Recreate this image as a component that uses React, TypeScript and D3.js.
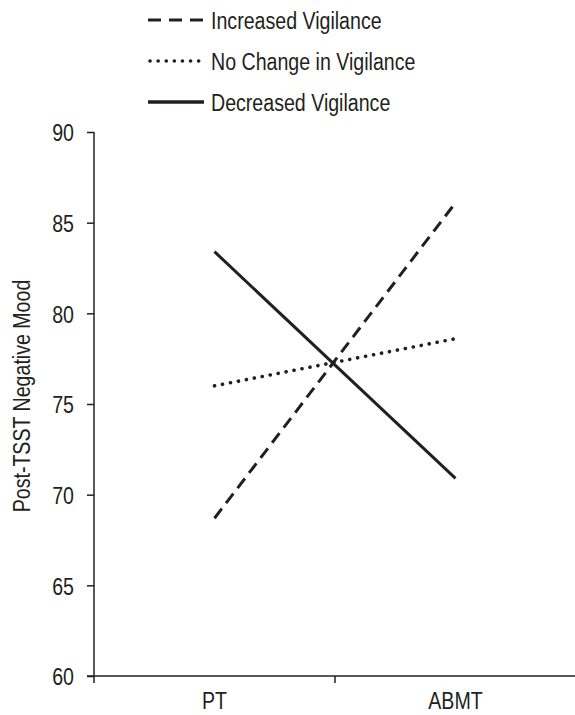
import React, { useRef, useEffect } from "react";
import * as d3 from "d3";

// conditions on the x axis
const conditions = ["PT", "ABMT"];
// post-TSST negative mood per group
const increased = [68.7, 86.1];
const noChange = [76.0, 78.6];
const decreased = [83.4, 70.9];
const seriesNames = ["Increased Vigilance", "No Change in Vigilance", "Decreased Vigilance"];
const yTicks = [60, 65, 70, 75, 80, 85, 90];

const ink = "#231f20";
const font = "'Liberation Sans', Arial, sans-serif";
const fs = 24.5;
const squeeze = "scale(0.8,1)"; // fake a condensed face

const App = () => {
  const svgRef = useRef(null);
  const width = 575;
  const height = 715;

  useEffect(() => {
    const svg = d3.select(svgRef.current);
    svg.selectAll("*").remove();

    const x = d3.scaleBand().domain(conditions).range([94, 576]);
    const y = d3.scaleLinear().domain([60, 90]).range([676, 132]);

    const styles = [
      { dash: "12,7", cap: "butt", w: 3 },
      { dash: "0.1,8", cap: "round", w: 3.6 },
      { dash: null, cap: "butt", w: 3 },
    ];
    const allSeries = [increased, noChange, decreased];

    // y axis
    const yAxis = svg.append("g").attr("transform", "translate(94,0)")
      .call(d3.axisLeft(y).tickValues(yTicks).tickSize(7).tickSizeOuter(0));
    yAxis.select(".domain").remove();
    yAxis.append("line").attr("x1", 0).attr("x2", 0).attr("y1", y(90)).attr("y2", 683)
      .attr("stroke", ink).attr("stroke-width", 1.5);
    yAxis.selectAll(".tick line").attr("stroke", ink).attr("stroke-width", 1.5);
    yAxis.selectAll(".tick text")
      .attr("x", 0).attr("dy", "0.36em")
      .attr("transform", "translate(-20,0) " + squeeze)
      .attr("fill", ink).attr("font-size", fs).attr("font-family", font);

    // x axis
    svg.append("line").attr("x1", 87).attr("x2", 575).attr("y1", y(60)).attr("y2", y(60))
      .attr("stroke", ink).attr("stroke-width", 1.5);
    const mid = (x("PT") + x.bandwidth() + x("ABMT")) / 2;
    svg.append("line").attr("x1", mid).attr("x2", mid).attr("y1", y(60)).attr("y2", 683)
      .attr("stroke", ink).attr("stroke-width", 1.5);
    svg.selectAll(".xlab").data(conditions).join("text")
      .attr("class", "xlab")
      .attr("transform", d => `translate(${x(d) + x.bandwidth() / 2},709) ${squeeze}`)
      .attr("text-anchor", "middle")
      .attr("fill", ink).attr("font-size", fs).attr("font-family", font)
      .text(d => d);

    // y title
    svg.append("text")
      .attr("transform", `translate(30,396) rotate(-90) ${squeeze}`)
      .attr("text-anchor", "middle")
      .attr("fill", ink).attr("font-size", fs).attr("font-family", font)
      .text("Post-TSST Negative Mood");

    // lines
    const myLine = d3.line()
      .x((d, i) => x(conditions[i]) + x.bandwidth() / 2)
      .y(d => y(d));
    allSeries.forEach((s, i) => {
      svg.append("path")
        .attr("d", myLine(s))
        .attr("fill", "none")
        .attr("stroke", ink)
        .attr("stroke-width", styles[i].w)
        .attr("stroke-linecap", styles[i].cap)
        .attr("stroke-dasharray", styles[i].dash);
    });

    // legend
    const legend = svg.append("g");
    seriesNames.forEach((name, i) => {
      const cy = 20 + i * 41;
      legend.append("line")
        .attr("x1", i === 1 ? 150 : 148).attr("x2", 204).attr("y1", cy).attr("y2", cy)
        .attr("stroke", ink)
        .attr("stroke-width", i === 2 ? 3.5 : styles[i].w)
        .attr("stroke-linecap", styles[i].cap)
        .attr("stroke-dasharray", i === 0 ? "13,8" : styles[i].dash);
      legend.append("text")
        .attr("transform", `translate(211,${cy + 8.5}) ${squeeze}`)
        .attr("fill", ink).attr("font-size", fs).attr("font-family", font)
        .text(name);
    });
  }, []);

  return (
    <svg ref={svgRef} width={width} height={height}
      style={{ position: "absolute", left: 0, top: 0, background: "#fff" }} />
  );
};

export default App;
